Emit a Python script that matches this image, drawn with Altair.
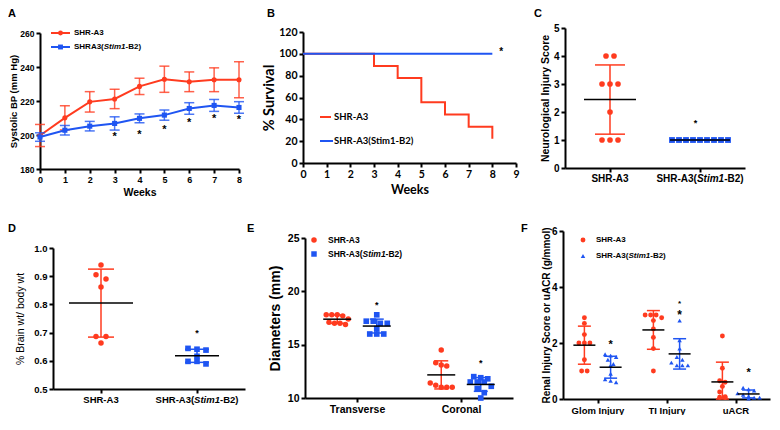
import altair as alt
import pandas as pd

RED = "#ff3b1f"
BLUE = "#1f55f2"
FA = "Liberation Sans"
FB = "Lato"

# ---------------- data ----------------
weeks = [0, 1, 2, 3, 4, 5, 6, 7, 8]
a_red_mean = [199.7, 210.1, 219.5, 221.2, 228.6, 232.8, 231.3, 232.5, 232.5]
a_red_err = [6.5, 7.1, 6.0, 5.7, 4.8, 7.7, 5.8, 7.0, 10.6]
a_blue_mean = [198.8, 202.8, 205.2, 206.8, 209.8, 211.7, 215.6, 217.4, 216.2]
a_blue_err = [2.5, 2.8, 2.8, 3.9, 2.6, 3.0, 3.4, 3.5, 3.4]
a_star_weeks = [3, 4, 5, 6, 7, 8]
a_star_y = [200.4, 201.9, 204.7, 208.8, 211.2, 210.6]

b_red_weeks = [0, 3, 4, 5, 6, 7, 8]
b_red_surv = [100, 88.9, 77.8, 55.6, 44.4, 33.3, 22.2]
b_blue_weeks = [0, 8]
b_blue_surv = [100, 100]
b_star_x = [8.38]
b_star_y = [103.7]

c_red = [4, 4, 3, 3, 3, 2, 1, 1, 1]
c_blue = [1, 1, 1, 1, 1, 1, 1, 1, 1]

d_red = [0.94, 0.905, 0.89, 0.862, 0.686, 0.686, 0.663]
d_blue = [0.644, 0.641, 0.638, 0.616, 0.598, 0.598, 0.589]

e_cats = ["Transverse", "Coronal"]
e_trans_red = [17.8, 17.8, 17.8, 17.7, 17.4, 17.1, 17.0, 17.0, 16.9]
e_trans_blue = [17.8, 17.2, 17.2, 17.0, 17.0, 16.5, 16.0, 16.0, 16.0]
e_cor_red = [14.5, 13.3, 13.1, 13.0, 11.4, 11.2, 11.0, 11.0, 11.0]
e_cor_blue = [12.0, 11.9, 11.8, 11.5, 11.5, 11.5, 11.1, 10.9, 10.5, 10.0]

f_cats = ["Glom Injury", "TI Injury", "uACR"]
f_glom_red = [2.9, 2.7, 2.3, 2.0, 2.0, 2.0, 1.4, 1.0, 1.0]
f_glom_blue = [1.6, 1.55, 1.5, 1.4, 1.25, 1.2, 0.9, 0.7, 0.65, 0.6]
f_ti_red = [3.0, 3.0, 3.0, 2.9, 2.8, 2.5, 2.2, 1.8, 1.0]
f_ti_blue = [2.8, 2.1, 1.8, 1.5, 1.4, 1.3, 1.2, 1.2, 1.2]
f_uacr_red = [2.25, 1.1, 0.65, 0.6, 0.45, 0.25, 0.08, 0.06, 0.05]
f_uacr_blue = [0.4, 0.35, 0.3, 0.2, 0.15, 0.1, 0.05, 0.05, 0.02]

ONE = pd.DataFrame({"k": [0]})
VW, VH = 764, 406   # whole view (all six panels share it)

# Arial/Liberation Sans Bold advance widths (1/1000 em)
AB = {' ': 278, '(': 333, ')': 333, '-': 333, '/': 278, '0': 556, '1': 556, '2': 556,
      '3': 556, 'A': 722, 'B': 722, 'C': 722, 'H': 722, 'R': 722, 'S': 667, 'T': 611,
      'a': 556, 'e': 556, 'i': 278, 'm': 889, 'n': 611, 'o': 611, 'r': 389, 's': 556,
      't': 333, 'v': 556, 'l': 278, 'u': 611, 'g': 611, 'y': 556}


def tw(s, fs):
    return sum(AB.get(c, 556) for c in s) * fs / 1000.0


def ax(**kw):
    base = dict(domainColor="black", domainWidth=2, tickColor="black", tickWidth=2, tickSize=4,
                labelColor="black", labelFont=FA, labelFontWeight="bold", labelFontSize=10,
                titleFont=FA, titleFontWeight="bold", titleColor="black", grid=False,
                labelOverlap=False, labelFlush=False, labelPadding=2)
    base.update(kw)
    return alt.Axis(**base)


def text_at(t, x, y, fs=10, font=FA, weight="bold", italic=False, align="left",
            baseline="middle", color="black", dx=0, dy=0):
    return alt.Chart(ONE).mark_text(
        text=t, font=font, fontSize=fs, fontWeight=weight,
        fontStyle="italic" if italic else "normal", align=align, baseline=baseline,
        color=color, dx=dx, dy=dy).encode(x=x, y=y)


def rich(parts, x, y, fs, anchor="left", baseline="middle", font=FA):
    widths = [tw(t, fs) for t, _ in parts]
    off = 0 if anchor == "left" else -sum(widths) / 2
    out = []
    for (t, it), w in zip(parts, widths):
        out.append(text_at(t, alt.value(x), alt.value(y), fs=fs, font=font, italic=it,
                           baseline=baseline, dx=off))
        off += w
    return out


def letter(t, x, y):
    return text_at(t, alt.value(x), alt.value(y), fs=11, baseline="top")


def stars(xs, ys, xe, ye, fs):
    df = pd.DataFrame({"sx": xs, "sy": ys})
    return alt.Chart(df).mark_text(text="*", font=FA, fontSize=fs, fontWeight="bold",
                                   color="black", align="center", baseline="alphabetic",
                                   dy=0.55 * fs).encode(x=xe("sx"), y=ye("sy"))


def legend_pt(shape, color, size, x, y):
    return alt.Chart(ONE).mark_point(shape=shape, filled=True, size=size, color=color,
                                     opacity=1, strokeWidth=0).encode(x=alt.value(x), y=alt.value(y))


def legend_line(color, x1, x2, y):
    return alt.Chart(ONE).mark_rule(color=color, strokeWidth=2).encode(
        x=alt.value(x1), x2=alt.value(x2), y=alt.value(y))


def encoders(x0, y0, W, H, xdom, ydom, xkw, ykw, ytitle, tx, tsize):
    def xe(f):
        return alt.X(f"{f}:Q",
                     scale=alt.Scale(domain=xdom, range=[x0, x0 + W], nice=False, zero=False),
                     axis=ax(orient="bottom", offset=(y0 + H) - VH, **xkw))

    def ye(f):
        return alt.Y(f"{f}:Q",
                     scale=alt.Scale(domain=ydom, range=[y0 + H, y0], nice=False, zero=False),
                     axis=ax(orient="left", offset=-x0, title=ytitle, titleX=tx, titleY=y0 + H / 2,
                             titleAngle=270, titleAlign="center", titleBaseline="middle",
                             titleFontSize=tsize, **ykw))
    return xe, ye


STIM = [("SHR-A3(", False), ("Stim1", True), ("-B2)", False)]

# ---------------- Panel A ----------------
AX0, AY0, A_W, A_H = 32, 25, 199, 136
xA, yA = encoders(AX0, AY0, A_W, A_H, [0, 8], [180, 260],
                  dict(values=weeks, title="Weeks", labelFontSize=9, titleFontSize=10.5, titlePadding=3),
                  dict(values=[180, 200, 220, 240, 260], labelFontSize=8.5),
                  "Systolic BP (mm Hg)", -27, 9.5)


def a_series(mean, err, color, shape):
    df = pd.DataFrame({"week": weeks, "mean": mean, "err": err})
    df["lo"] = df["mean"] - df["err"]
    df["hi"] = df["mean"] + df["err"]
    b = alt.Chart(df)
    return [
        b.mark_rule(color=color, strokeWidth=1.5, opacity=0.8).encode(x=xA("week"), y=yA("lo"), y2=alt.Y2("hi")),
        b.mark_tick(color=color, orient="horizontal", size=10, thickness=1.5, opacity=0.8).encode(x=xA("week"), y=yA("lo")),
        b.mark_tick(color=color, orient="horizontal", size=10, thickness=1.5, opacity=0.8).encode(x=xA("week"), y=yA("hi")),
        b.mark_line(color=color, strokeWidth=2).encode(x=xA("week"), y=yA("mean")),
        b.mark_point(shape=shape, filled=True, size=26, color=color, opacity=1, strokeWidth=0).encode(x=xA("week"), y=yA("mean")),
    ]


layA = a_series(a_red_mean, a_red_err, RED, "circle") + a_series(a_blue_mean, a_blue_err, BLUE, "square")
layA.append(stars(a_star_weeks, a_star_y, xA, yA, 11))
layA += [
    legend_line(RED, AX0 + 11, AX0 + 30, AY0),
    legend_pt("circle", RED, 24, AX0 + 20.5, AY0),
    text_at("SHR-A3", alt.value(AX0 + 34), alt.value(AY0), fs=8),
    legend_line(BLUE, AX0 + 11, AX0 + 30, AY0 + 14),
    legend_pt("square", BLUE, 24, AX0 + 20.5, AY0 + 14),
]
layA += rich([("SHRA3(", False), ("Stim1", True), ("-B2)", False)], AX0 + 34, AY0 + 14, 8)
layA.append(letter("A", 0, 0))
panelA = alt.layer(*layA)

# ---------------- Panel B ----------------
BX0, BY0, B_W, B_H = 295, 24, 213, 131
xB, yB = encoders(BX0, BY0, B_W, B_H, [0, 9], [0, 120],
                  dict(values=list(range(10)), title="Weeks", labelFont=FB, labelFontSize=10.5,
                       titleFont=FB, titleFontSize=12.5, titlePadding=4),
                  dict(values=[0, 20, 40, 60, 80, 100, 120], labelFont=FB, labelFontSize=10.5, titleFont=FB),
                  "% Survival", -34, 14.5)

dfBr = pd.DataFrame({"w": b_red_weeks, "s": b_red_surv})
dfBb = pd.DataFrame({"w": b_blue_weeks, "s": b_blue_surv})
layB = [
    alt.Chart(dfBr).mark_line(color=RED, strokeWidth=2, interpolate="step-after").encode(x=xB("w"), y=yB("s")),
    alt.Chart(dfBb).mark_line(color=BLUE, strokeWidth=2).encode(x=xB("w"), y=yB("s")),
    stars(b_star_x, b_star_y, xB, yB, 10),
    legend_line(RED, BX0 + 17, BX0 + 28, BY0 + 85),
    text_at("SHR-A3", alt.value(BX0 + 31), alt.value(BY0 + 85), fs=9.5, font=FB),
    legend_line(BLUE, BX0 + 17, BX0 + 30, BY0 + 109),
    text_at("SHR-A3(Stim1-B2)", alt.value(BX0 + 31), alt.value(BY0 + 109), fs=9.5, font=FB),
    letter("B", 259, 0),
]
panelB = alt.layer(*layB)


# ---------------- scatter panels ----------------
def swarm_offsets(vals, pxu_y, step, thresh):
    order = sorted(range(len(vals)), key=lambda i: -vals[i])
    rows = []
    for i in order:
        if rows and (vals[rows[-1][0]] - vals[i]) * pxu_y < thresh:
            rows[-1].append(i)
        else:
            rows.append([i])
    offs = [0.0] * len(vals)
    for r in rows:
        n = len(r)
        for k, i in enumerate(r):
            offs[i] = (k - (n - 1) / 2) * step
    return offs


def scatter_panel(x0, y0, W, H, ncat, ydom, yvals, ytitle, tx, tsize, series, extras,
                  cat_labels=None, xlab_size=10, ylab_size=10, yfmt=None, tweight="bold"):
    pxx = W / ncat
    pxy = H / (ydom[1] - ydom[0])
    xkw = dict(values=list(range(1, ncat + 1)), title=None)
    if cat_labels is None:
        xkw["labels"] = False
    else:
        xkw["labelExpr"] = "[" + ",".join("'%s'" % c for c in cat_labels) + "][datum.value - 1]"
        xkw["labelFontSize"] = xlab_size
    ykw = dict(values=yvals, labelFontSize=ylab_size, titleFontWeight=tweight)
    if yfmt:
        ykw["format"] = yfmt
    xe, ye = encoders(x0, y0, W, H, [0.5, ncat + 0.5], ydom, xkw, ykw, ytitle, tx, tsize)

    layers = []
    for s in series:
        vals = s["values"]
        offs = swarm_offsets(vals, pxy, s["step"], s["thresh"])
        xc = s["cat"] + s["off"]
        pts = pd.DataFrame({"x": [xc + o / pxx for o in offs], "y": vals})
        n = len(vals)
        m = sum(vals) / n
        sd = (sum((v - m) ** 2 for v in vals) / (n - 1)) ** 0.5
        st = pd.DataFrame({"x": [xc], "m": [m], "lo": [max(m - sd, ydom[0])], "hi": [m + sd]})
        layers.append(alt.Chart(pts).mark_point(shape=s["shape"], filled=True, size=s["size"],
                                                color=s["color"], opacity=1, strokeWidth=0)
                      .encode(x=xe("x"), y=ye("y")))
        sb = alt.Chart(st)
        layers += [
            sb.mark_rule(color=s["color"], strokeWidth=1.5).encode(x=xe("x"), y=ye("lo"), y2=alt.Y2("hi")),
            sb.mark_tick(color=s["color"], orient="horizontal", size=s["cap"], thickness=1.5, opacity=1).encode(x=xe("x"), y=ye("lo")),
            sb.mark_tick(color=s["color"], orient="horizontal", size=s["cap"], thickness=1.5, opacity=1).encode(x=xe("x"), y=ye("hi")),
            sb.mark_tick(color="black", orient="horizontal", size=s["mean"], thickness=1.5, opacity=1).encode(x=xe("x"), y=ye("m")),
        ]
    layers += extras(xe, ye, pxx, pxy)
    return alt.layer(*layers)


def ser(cat, off, values, color, shape, size, step, thresh, cap, mean):
    return dict(cat=cat, off=off, values=values, color=color, shape=shape, size=size,
                step=step, thresh=thresh, cap=cap, mean=mean)


# ---------------- Panel C ----------------
CX0, CY0, C_W, C_H = 557, 20, 180, 140


def extrasC(xe, ye, pxx, pxy):
    out = [stars([1.95], [1.69], xe, ye, 9)]
    out.append(text_at("SHR-A3", alt.value(CX0 + 0.5 * pxx), alt.value(CY0 + C_H + 6), fs=10,
                       align="center", baseline="top"))
    out += rich(STIM, CX0 + 1.5 * pxx, CY0 + C_H + 6, 10, anchor="center", baseline="top")
    out.append(letter("C", 526, 0))
    return out


panelC = scatter_panel(
    CX0, CY0, C_W, C_H, 2, [0, 5], [0, 1, 2, 3, 4, 5], "Neurological Injury Score", -20, 10.5,
    [ser(1, 0, c_red, RED, "circle", 32, 8, 4, 30, 52),
     ser(2, 0, c_blue, BLUE, "square", 34, 7, 4, 60, 60)],
    extrasC)

# ---------------- Panel D ----------------
DX0, DY0, D_W, D_H = 45, 240, 192, 141


def extrasD(xe, ye, pxx, pxy):
    out = [stars([2.0], [0.707], xe, ye, 9)]
    out.append(text_at("SHR-A3", alt.value(DX0 + 0.5 * pxx), alt.value(DY0 + D_H + 6), fs=9.5,
                       align="center", baseline="top"))
    out += rich(STIM, DX0 + 1.5 * pxx, DY0 + D_H + 6, 9.5, anchor="center", baseline="top")
    out.append(letter("D", 0, 215))
    return out


panelD = scatter_panel(
    DX0, DY0, D_W, D_H, 2, [0.5, 1.0], [0.5, 0.6, 0.7, 0.8, 0.9, 1.0], "% Brain wt/ body wt", -33, 10.5,
    [ser(1, 0, d_red, RED, "circle", 30, 10, 5, 26, 64),
     ser(2, 0, d_blue, BLUE, "square", 32, 9, 5, 24, 44)],
    extrasD, ylab_size=9.5, yfmt=".1f", tweight="normal")

# ---------------- Panel E ----------------
EX0, EY0, E_W, E_H = 297, 230, 208, 160
EO = 0.19


def extrasE(xe, ye, pxx, pxy):
    out = [stars([1 + EO, 2 + EO], [18.9, 13.45], xe, ye, 9)]
    out += [legend_pt("circle", RED, 30, EX0 + 9, EY0 + 2),
            text_at("SHR-A3", alt.value(EX0 + 23), alt.value(EY0 + 2), fs=8.5),
            legend_pt("square", BLUE, 30, EX0 + 9, EY0 + 16)]
    out += rich(STIM, EX0 + 23, EY0 + 16, 8.5)
    out.append(letter("E", 239, 215))
    return out


panelE = scatter_panel(
    EX0, EY0, E_W, E_H, 2, [10, 25], [10, 15, 20, 25], "Diameters (mm)", -30, 14,
    [ser(1, -EO, e_trans_red, RED, "circle", 30, 5.5, 5, 14, 28),
     ser(1, EO, e_trans_blue, BLUE, "square", 32, 7, 5, 14, 28),
     ser(2, -EO, e_cor_red, RED, "circle", 30, 5.5, 5, 14, 28),
     ser(2, EO, e_cor_blue, BLUE, "square", 32, 7, 5, 14, 28)],
    extrasE, cat_labels=e_cats, xlab_size=10.5, ylab_size=10.5)

# ---------------- Panel F ----------------
FX0, FY0, F_W, F_H = 555, 223, 207, 168
FO = 0.19


def extrasF(xe, ye, pxx, pxy):
    out = [stars([1 + FO, 3 + FO], [2.02, 1.02], xe, ye, 11),
           stars([2 + FO], [3.48], xe, ye, 8),
           stars([2 + FO], [3.1], xe, ye, 12)]
    out += [legend_pt("circle", RED, 24, FX0 + 20, FY0 + 9),
            text_at("SHR-A3", alt.value(FX0 + 33), alt.value(FY0 + 9), fs=8),
            legend_pt("triangle-up", BLUE, 20, FX0 + 20, FY0 + 25)]
    out += rich(STIM, FX0 + 33, FY0 + 25, 8)
    out.append(letter("F", 513, 215))
    return out


panelF = scatter_panel(
    FX0, FY0, F_W, F_H, 3, [0, 6], [0, 2, 4, 6], "Renal Injury Score or uACR (g/mmol)", -17, 10,
    [ser(1, -FO, f_glom_red, RED, "circle", 24, 5.5, 5, 13, 22),
     ser(1, FO, f_glom_blue, BLUE, "triangle-up", 20, 5.5, 5, 13, 22),
     ser(2, -FO, f_ti_red, RED, "circle", 24, 5.5, 5, 13, 22),
     ser(2, FO, f_ti_blue, BLUE, "triangle-up", 20, 5.5, 5, 13, 22),
     ser(3, -FO, f_uacr_red, RED, "circle", 24, 5.5, 5, 13, 22),
     ser(3, FO, f_uacr_blue, BLUE, "triangle-up", 20, 5.5, 5, 13, 22)],
    extrasF, cat_labels=f_cats, xlab_size=9.5, ylab_size=10)

# ---------------- one view, six independent panels ----------------
chart = (
    alt.layer(panelA, panelB, panelC, panelD, panelE, panelF)
    .resolve_scale(x="independent", y="independent")
    .properties(width=VW, height=VH, padding=0)
    .configure_view(stroke=None)
)

chart.save("out.html", embed_options={"renderer": "svg", "actions": False})
